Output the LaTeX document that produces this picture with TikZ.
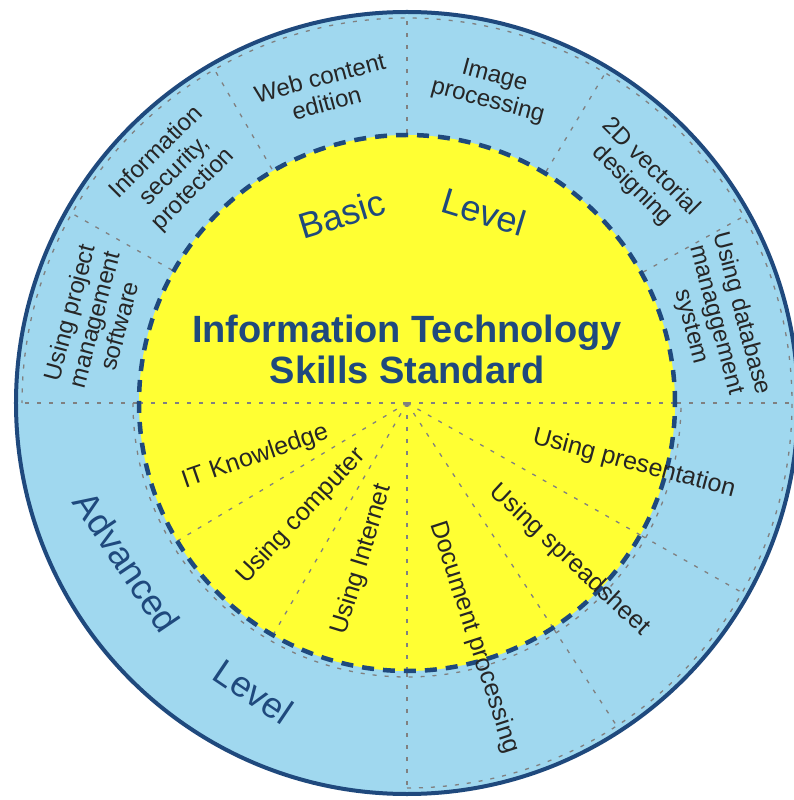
\documentclass[tikz,border=0pt]{standalone}
\usepackage{fontspec}
\setmainfont{Liberation Sans}
\definecolor{ringblue}{RGB}{160,216,239}
\definecolor{coreyellow}{RGB}{255,255,51}
\definecolor{darkblue}{RGB}{31,73,125}
\definecolor{labelgray}{RGB}{38,38,38}
\definecolor{divgray}{RGB}{128,128,128}

\begin{document}
\begin{tikzpicture}[
    x=1pt, y=1pt,
    divider/.style={draw=divgray, line width=1.3pt, dash pattern=on 4pt off 8pt},
    ringlabel/.style={text=labelgray, align=center, font=\fontsize{24}{26}\selectfont},
    corelabel/.style={text=labelgray, font=\fontsize{25}{28}\selectfont},
    levellabel/.style={text=darkblue, font=\fontsize{36}{40}\selectfont}
    ]
    \clip (-407,-397) rectangle (387,403);
    \fill[white] (-407,-397) rectangle (387,403);
    % outer ring and its segments
    \draw[fill=ringblue, draw=darkblue, line width=4pt] (0,0) circle (391);
    \draw[divider] (-90:385) arc[start angle=-90, end angle=180, radius=385];
    \foreach \a in {-90,-57,-29.5,0,29,59,90,120,150.5,180}
      \draw[divider] (\a:270) -- (\a:385);
    % yellow core, lower half split in six
    \fill[coreyellow] (0,0) circle (268);
    \draw[divider] (180:274) arc[start angle=180, end angle=360, radius=274];
    \foreach \a in {180,211,240,270,303,330.5,360}
      \draw[divider] (0,0) -- (\a:274);
    \draw[darkblue, line width=4.5pt, dash pattern=on 12pt off 9pt] (0,0) circle (268);
    % ring labels
    \node[ringlabel, rotate=75] (pm) at (165:324) {Using project\\management\\software};
    \node[ringlabel, rotate=45] (sec) at (135:328) {Information\\security,\\protection};
    \node[ringlabel, rotate=15] (web) at (105:324) {Web content\\edition};
    \node[ringlabel, rotate=-15] (img) at (75:325) {Image\\processing};
    \node[ringlabel, rotate=-45] (vec) at (44:326) {2D vectorial\\designing};
    \node[ringlabel, rotate=-75] (db) at (15:320) {Using database\\managgement\\system};
    % core labels
    \node[corelabel, rotate=19] (itk) at (199.6:161) {IT Knowledge};
    \node[corelabel, rotate=47] (comp) at (227:155) {Using computer};
    \node[corelabel, rotate=73] (inet) at (254:163) {Using Internet};
    \node[corelabel, rotate=-72] (doc) at (-74:244) {Document processing};
    \node[corelabel, rotate=-43] (sheet) at (-44:226) {Using spreadsheet};
    \node[corelabel, rotate=-15] (pres) at (-15:235) {Using presentation};
    % levels
    \node[levellabel, rotate=17] (basic) at (109:200) {Basic};
    \node[levellabel, rotate=-17] (basiclvl) at (68:206) {Level};
    \node[levellabel, rotate=-56] (adv) at (209.6:322) {Advanced};
    \node[levellabel, rotate=-34] (advlvl) at (242:327) {Level};
    \node[text=darkblue, align=center, font=\bfseries\fontsize{38}{41}\selectfont] (title) at (0,54) {Information Technology\\Skills Standard};
\end{tikzpicture}
\end{document}
